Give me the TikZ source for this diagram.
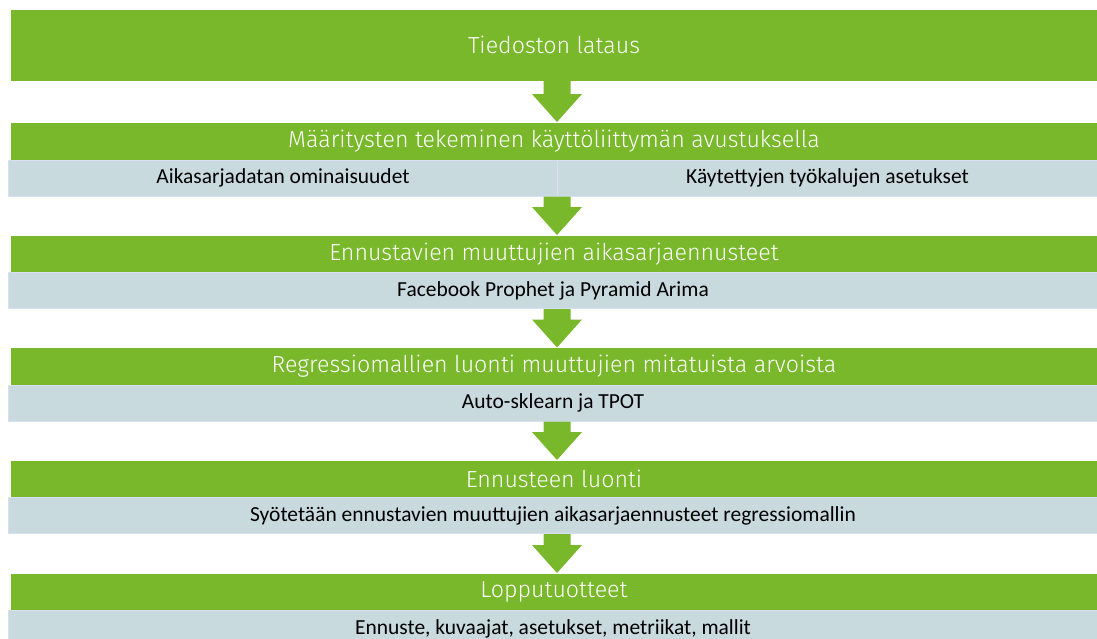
\documentclass[tikz,border=0pt]{standalone}
\usepackage{fontspec}
\setmainfont{Carlito}
\newfontfamily\barfont{Fira Sans Light}
\usetikzlibrary{calc}

\definecolor{bargreen}{RGB}{120,184,42}
\definecolor{cellblue}{RGB}{201,218,223}
\definecolor{celledge}{RGB}{216,223,242}

\tikzset{every picture/.style={line width=0.75pt}}
\tikzset{
  greenbar/.style={fill=bargreen, draw=none, anchor=north west, inner sep=0pt,
    minimum width=815.25pt, minimum height=27.75pt, text=white,
    font=\barfont\fontsize{17.4}{20}\selectfont},
  bluecell/.style={fill=cellblue, draw=celledge, anchor=north west, inner sep=0pt,
    minimum height=27pt, font=\fontsize{16.1}{19}\selectfont},
  flowarrow/.style={fill=bargreen, draw=none}
}
% block arrow from the bottom of one node to the top of the next
\newcommand{\blockarrow}[2]{%
  \fill[flowarrow] ($(#1.south -| mid)+(-13.5,0)$) -- ($(#1.south -| mid)+(13.5,0)$)
    -- ($(#2.north -| mid)+(13.5,-28)$) -- ($(#2.north -| mid)+(25,-28)$)
    -- (#2.north -| mid) -- ($(#2.north -| mid)+(-25,-28)$)
    -- ($(#2.north -| mid)+(-13.5,-28)$) -- cycle;}

\begin{document}
\begin{tikzpicture}[x=0.75pt,y=0.75pt,yscale=-1,xscale=1]
    \useasboundingbox (0,0) rectangle (1097,639);
    \coordinate (mid) at (557,0);

    % Step 1
    \node [greenbar, minimum height=53.25pt] (load) at (10,9) {Tiedoston lataus};
    % Step 2
    \node [greenbar] (setup) at (10,122) {Määritysten tekeminen käyttöliittymän avustuksella};
    \node [bluecell, minimum width=411.75pt] (props) at (8,159.5) {Aikasarjadatan ominaisuudet};
    \node [bluecell, minimum width=405pt] (tools) at (557,159.5) {Käytettyjen työkalujen asetukset};
    % Step 3
    \node [greenbar] (tsfc) at (10,235) {Ennustavien muuttujien aikasarjaennusteet};
    \node [bluecell, minimum width=816.75pt] (prophet) at (8,272) {Facebook Prophet ja Pyramid Arima};
    % Step 4
    \node [greenbar] (regr) at (10,347.5) {Regressiomallien luonti muuttujien mitatuista arvoista};
    \node [bluecell, minimum width=816.75pt] (automl) at (8,384.5) {Auto-sklearn ja TPOT};
    % Step 5
    \node [greenbar] (fcst) at (10,460) {Ennusteen luonti};
    \node [bluecell, minimum width=816.75pt] (feed) at (8,497) {Syötetään ennustavien muuttujien aikasarjaennusteet regressiomallin};
    % Step 6
    \node [greenbar] (final) at (10,573) {Lopputuotteet};
    \node [bluecell, minimum width=816.75pt] (outputs) at (8,610) {Ennuste, kuvaajat, asetukset, metriikat, mallit};

    % Arrows
    \blockarrow{load}{setup}
    \blockarrow{props}{tsfc}
    \blockarrow{prophet}{regr}
    \blockarrow{automl}{fcst}
    \blockarrow{feed}{final}

\end{tikzpicture}
\end{document}
